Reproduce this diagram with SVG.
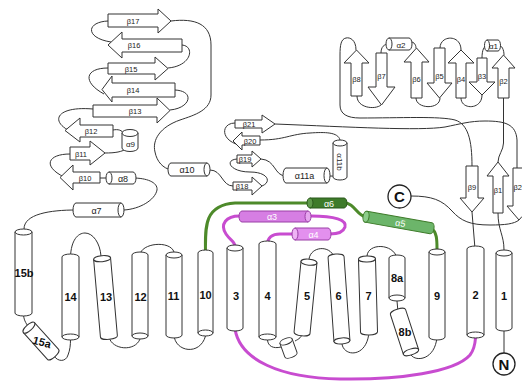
<svg xmlns="http://www.w3.org/2000/svg" width="522" height="381" viewBox="0 0 522 381">
<style>
.cyl{fill:#fff;stroke:#333;stroke-width:1}
.beta{fill:#fff;stroke:#333;stroke-width:1}
.lnk{fill:none;stroke:#333;stroke-width:1}
.mag{fill:none;stroke:#c84cd0;stroke-width:3;stroke-linecap:round}
.grn{fill:none;stroke:#4d8a2a;stroke-width:3;stroke-linecap:round}
.hn{font-family:"Liberation Sans",Arial,sans-serif;font-weight:bold;font-size:11px;text-anchor:middle;fill:#111}
.bl{font-family:"Liberation Sans",Arial,sans-serif;font-size:7.5px;text-anchor:middle;fill:#222}
.al{font-family:"Liberation Sans",Arial,sans-serif;font-size:9px;text-anchor:middle;fill:#222}
.wl{font-family:"Liberation Sans",Arial,sans-serif;font-size:9px;text-anchor:middle;fill:#fff}
.term{fill:#fff;stroke:#222;stroke-width:1.3}
.tl{font-family:"Liberation Sans",Arial,sans-serif;font-weight:bold;font-size:15px;text-anchor:middle;fill:#111}
</style>

<!-- loops between secondary-structure elements -->
<g id="connectors">
 <g class="lnk">
  <path d="M24,229 C24,214 50,210 76,210"/>
  <path d="M124,210 C140,209 155,200 157,190 C158,182 146,178 133,178"/>
  <path d="M100,178 L109,178"/>
  <path d="M70,154 C48,154 42,166 64,177"/>
  <path d="M105,153 C115,153 122,152 128,148"/>
  <path d="M113,130 C118,129 122,130 124,134"/>
  <path d="M93,109 C58,106 50,120 68,130"/>
  <path d="M170,110 C191,108 195,91 175,90"/>
  <path d="M108,68 C85,68 82,82 104,94"/>
  <path d="M168,68 C192,66 195,46 182,45"/>
  <path d="M108,21 C86,22 85,38 111,42"/>
  <path d="M171,21 C195,18 211,24 211,45 L211,95 C211,110 195,115 180,120 C160,127 152,140 155,152 C157,162 163,168 171,170"/>
  <path d="M210,170 C222,170 222,186 233,186"/>
  <path d="M262,186 C272,182 268,172 250,172 C230,172 224,160 237,159"/>
  <path d="M261,159 C276,160 274,176 286,176"/>
  <path d="M330,176 C337,176 340,178 340,175"/>
  <path d="M340,140 C338,132 325,132 310,133 C290,134 285,140 260,140"/>
  <path d="M235,123 C222,123 220,138 236,144"/>
  <path d="M275,124 C350,127 420,131 445,127 C460,124 470,121 485,121 C505,121 516,124 517,140 L517,168"/>
  <path d="M411,196 C432,196 442,200 452,211 C461,221 470,225 490,225 C505,225 514,224 519,220"/>
  <path d="M357,96 C357,108 375,110 381,105"/>
  <path d="M356,50 C356,40 350,37 346,38 C341,39 340,45 340,55 L340,105 C340,114 347,118 360,118 C400,118 440,116 455,120 C468,124 472,140 472,166"/>
  <path d="M381,53 C381,47 384,44 389,44"/>
  <path d="M409,42 C413,41 416,44 416,48"/>
  <path d="M416,98 C416,109 440,110 440,98"/>
  <path d="M440,48 C440,35 461,34 461,50"/>
  <path d="M461,98 C461,110 482,110 482,95"/>
  <path d="M482,58 C482,50 484,46 487,46"/>
  <path d="M498,45 C502,45 504,50 504,55"/>
  <path d="M503.5,98 L503.5,143 C503.5,150 498,155 498,162"/>
  <path d="M498,213 C498,230 504,235 504,250"/>
  <path d="M472,212 L475,249"/>
  <path d="M504,331 L504,353"/>
  <path d="M23.5,315 C24,321 27,325 29,327"/>
  <path d="M54,356 C58,362 66,362 68,355 C70,350 70.5,345 70.5,339"/>
  <path d="M70.5,257 C71,240 78,233 85,233 C93,233 100,243 101,256"/>
  <path d="M109,337 C112,350 135,352 140,339"/>
  <path d="M140,255 C141,243 170,240 174,252"/>
  <path d="M174,335 C175,352 200,356 205.5,336"/>
  <path d="M267.5,340 C268,346 273,349 281,347"/>
  <path d="M295,341 C299,339 302,337 302,333"/>
  <path d="M309,259 C311,246 330,245 334,257"/>
  <path d="M342,344 C344,357 367,358 369,332"/>
  <path d="M367,256 C368,243 393,243 397,258"/>
  <path d="M397,301 L398,312"/>
  <path d="M411,355 C416,362 435,360 437,337"/>
 </g>
 <path class="grn" d="M205.5,252 C205,225 205,205 235,203 L310,203"/>
 <path class="grn" d="M344,203 C355,203 356,215 366,217"/>
 <path class="grn" d="M431,228 C437,232 437,240 437,249"/>
 <path class="mag" d="M242,216 C225,215 220,225 226,234 C230,240 235,242 235,246"/>
 <path class="mag" d="M311,216 C335,216 347,220 345,227 C343,233 335,234 330,234"/>
 <path class="mag" d="M295,234 L280,234 C272,234 267.5,238 267.5,244"/>
 <path class="mag" d="M235,329 C240,360 280,378 340,379 C400,380 455,372 470,355 C474,350 475,345 475.5,338"/>
</g>

<!-- beta strands -->
<g id="b17"><polygon class="beta" points="108,14 158,14 158,9 171,21 158,33 158,27 108,27"/><text class="bl" x="133" y="23.5">β17</text></g>
<g id="b16"><polygon class="beta" points="182,39 122,39 122,32 108,45 122,58 122,52 182,52"/><text class="bl" x="134" y="48">β16</text></g>
<g id="b15"><polygon class="beta" points="108,63 155,63 155,57 168,68.5 155,80 155,74 108,74"/><text class="bl" x="131" y="71.5">β15</text></g>
<g id="b14"><polygon class="beta" points="175,83 112,83 112,76 102,89.5 112,102 112,97 175,97"/><text class="bl" x="133" y="92.5">β14</text></g>
<g id="b13"><polygon class="beta" points="93,105 157,105 157,98 170,110.5 157,123 157,117 93,117"/><text class="bl" x="135" y="113.5">β13</text></g>
<g id="b12"><polygon class="beta" points="113,125 80,125 80,118 65,130.5 80,142 80,137 113,137"/><text class="bl" x="91" y="133.5">β12</text></g>
<g id="b11"><polygon class="beta" points="70,147 90,147 90,141 105,153 90,165 90,160 70,160"/><text class="bl" x="81" y="156.5">β11</text></g>
<g id="b10"><polygon class="beta" points="100,172 73,172 73,165 60,177.5 73,190 73,183 100,183"/><text class="bl" x="85" y="180.5">β10</text></g>
<g id="b21"><polygon class="beta" points="235,120 262,120 262,115 275,124 262,133 262,128 235,128"/><text class="bl" x="249" y="127">β21</text></g>
<g id="b20"><polygon class="beta" points="260,136 242,136 242,132 233,141 242,150 242,145 260,145"/><text class="bl" x="250" y="143.5">β20</text></g>
<g id="b19"><polygon class="beta" points="237,155 252,155 252,151 261,159 252,167 252,163 237,163"/><text class="bl" x="245" y="161.5">β19</text></g>
<g id="b18"><polygon class="beta" points="233,182 252,182 252,177 262,186 252,195 252,190 233,190"/><text class="bl" x="242" y="188.5">β18</text></g>
<g id="b8"><polygon class="beta" points="351,96 351,63 344,63 356.5,50 369,63 362,63 362,96"/><text class="bl" x="356.5" y="82">β8</text></g>
<g id="b7"><polygon class="beta" points="376,53 376,87 368,87 381.5,105 395,87 387,87 387,53"/><text class="bl" x="381.5" y="79">β7</text></g>
<g id="b6"><polygon class="beta" points="411,98 411,62 404,62 416.5,48 429,62 422,62 422,98"/><text class="bl" x="416.5" y="82">β6</text></g>
<g id="b5"><polygon class="beta" points="434,48 434,83 427,83 439.5,98 452,83 445,83 445,48"/><text class="bl" x="439.5" y="79">β5</text></g>
<g id="b4"><polygon class="beta" points="456,98 456,63 448,63 461,50 474,63 466,63 466,98"/><text class="bl" x="461" y="82">β4</text></g>
<g id="b3"><polygon class="beta" points="477,58 477,82 469,82 482,95 495,82 487,82 487,58"/><text class="bl" x="482" y="79">β3</text></g>
<g id="b2"><polygon class="beta" points="498,98 498,68 492,68 503.5,55 515,68 509,68 509,98"/><text class="bl" x="503.5" y="84">β2</text></g>
<g id="b9"><polygon class="beta" points="466,166 466,198 460,198 472,212 484,198 478,198 478,166"/><text class="bl" x="472" y="190">β9</text></g>
<g id="b1"><polygon class="beta" points="493,213 493,176 487,176 498,162 509,176 503,176 503,213"/><text class="bl" x="498" y="193">β1</text></g>
<g id="b22"><path class="beta" d="M522,168 L513,168 L513,206 L507,206 L519,220 L522,216.5"/><text class="bl" x="513.5" y="190" style="text-anchor:start">β2</text></g>

<!-- helices of the membrane domain -->
<g id="h15b" transform="translate(23.5,272.5)"><path class="cyl" d="M-8.5,-40.5 V40.5 A8.5,3 0 0 0 8.5,40.5 V-40.5 Z"/><ellipse class="cyl" cx="0" cy="-40.5" rx="8.5" ry="3"/><text class="hn" x="0.5" y="4">15b</text></g>
<g id="h15a"><g transform="translate(41,341) rotate(-42)"><path class="cyl" d="M-7.5,-18 V18 A7.5,3 0 0 0 7.5,18 V-18 Z"/><ellipse class="cyl" cx="0" cy="-18" rx="7.5" ry="3"/></g><text class="hn" x="42" y="346" transform="rotate(15 42 342)">15a</text></g>
<g id="h14" transform="translate(70.5,297)"><path class="cyl" d="M-8.5,40 V-40 A8.5,3 0 0 1 8.5,-40 V40 Z"/><ellipse class="cyl" cx="0" cy="40" rx="8.5" ry="3"/><text class="hn" x="0" y="4">14</text></g>
<g id="h13"><g transform="translate(105.5,297.5) rotate(-5)"><path class="cyl" d="M-8.5,-39 V39 A8.5,3 0 0 0 8.5,39 V-39 Z"/><ellipse class="cyl" cx="0" cy="-39" rx="8.5" ry="3"/></g><text class="hn" x="106" y="301">13</text></g>
<g id="h12" transform="translate(140,295.5)"><path class="cyl" d="M-8,40.5 V-40.5 A8,3 0 0 1 8,-40.5 V40.5 Z"/><ellipse class="cyl" cx="0" cy="40.5" rx="8" ry="3"/><text class="hn" x="0.5" y="5">12</text></g>
<g id="h11" transform="translate(174,295)"><path class="cyl" d="M-8,-40 V40 A8,3 0 0 0 8,40 V-40 Z"/><ellipse class="cyl" cx="0" cy="-40" rx="8" ry="3"/><text class="hn" x="-0.5" y="5">11</text></g>
<g id="h10" transform="translate(205.5,293)"><path class="cyl" d="M-7.5,40 V-40 A7.5,3 0 0 1 7.5,-40 V40 Z"/><ellipse class="cyl" cx="0" cy="40" rx="7.5" ry="3"/><text class="hn" x="0" y="6">10</text></g>
<g id="h3" transform="translate(235,288)"><path class="cyl" d="M-8,-40 V40 A8,3 0 0 0 8,40 V-40 Z"/><ellipse class="cyl" cx="0" cy="-40" rx="8" ry="3"/><text class="hn" x="1" y="12">3</text></g>
<g id="h4" transform="translate(267.5,290.5)"><path class="cyl" d="M-8.5,46.5 V-46.5 A8.5,3 0 0 1 8.5,-46.5 V46.5 Z"/><ellipse class="cyl" cx="0" cy="46.5" rx="8.5" ry="3"/><text class="hn" x="0" y="9.5">4</text></g>
<g id="h4b"><g transform="translate(288.5,348) rotate(-20)"><path class="cyl" d="M-6.5,-7 V7 A6.5,3 0 0 0 6.5,7 V-7 Z"/><ellipse class="cyl" cx="0" cy="-7" rx="6.5" ry="3"/></g></g>
<g id="h5"><g transform="translate(305.5,297.5) rotate(5.6)"><path class="cyl" d="M-8,-35.5 V35.5 A8,3 0 0 0 8,35.5 V-35.5 Z"/><ellipse class="cyl" cx="0" cy="-35.5" rx="8" ry="3"/></g><text class="hn" x="307" y="300">5</text></g>
<g id="h6"><g transform="translate(339,299) rotate(-4)"><path class="cyl" d="M-8,42 V-42 A8,3 0 0 1 8,-42 V42 Z"/><ellipse class="cyl" cx="0" cy="42" rx="8" ry="3"/></g><text class="hn" x="338.5" y="300">6</text></g>
<g id="h7"><g transform="translate(368,295.5) rotate(-1.6)"><path class="cyl" d="M-8.5,-36.5 V36.5 A8.5,3 0 0 0 8.5,36.5 V-36.5 Z"/><ellipse class="cyl" cx="0" cy="-36.5" rx="8.5" ry="3"/></g><text class="hn" x="368.5" y="300">7</text></g>
<g id="h8a" transform="translate(397,278)"><path class="cyl" d="M-8,20 V-20 A8,3 0 0 1 8,-20 V20 Z"/><ellipse class="cyl" cx="0" cy="20" rx="8" ry="3"/><text class="hn" x="0" y="4">8a</text></g>
<g id="h8b"><g transform="translate(404.5,332) rotate(-18)"><path class="cyl" d="M-8,21 V-21 A8,3 0 0 1 8,-21 V21 Z"/><ellipse class="cyl" cx="0" cy="21" rx="8" ry="3"/></g><text class="hn" x="405" y="336">8b</text></g>
<g id="h9" transform="translate(437,294.5)"><path class="cyl" d="M-8,-42.5 V42.5 A8,3 0 0 0 8,42.5 V-42.5 Z"/><ellipse class="cyl" cx="0" cy="-42.5" rx="8" ry="3"/><text class="hn" x="0" y="5.5">9</text></g>
<g id="h2" transform="translate(475.5,292)"><path class="cyl" d="M-8.5,43 V-43 A8.5,3 0 0 1 8.5,-43 V43 Z"/><ellipse class="cyl" cx="0" cy="43" rx="8.5" ry="3"/><text class="hn" x="0" y="7">2</text></g>
<g id="h1" transform="translate(504,290.5)"><path class="cyl" d="M-8,-37.5 V37.5 A8,3 0 0 0 8,37.5 V-37.5 Z"/><ellipse class="cyl" cx="0" cy="-37.5" rx="8" ry="3"/><text class="hn" x="0" y="9.5">1</text></g>

<!-- helices of the soluble domain -->
<g id="a7" transform="translate(98.5,210)"><path class="cyl" d="M22.5,-7 H-22.5 A3,7 0 0 0 -22.5,7 H22.5 Z"/><ellipse class="cyl" cx="22.5" cy="0" rx="3" ry="7"/><text class="al" x="-2" y="3.5">α7</text></g>
<g id="a8" transform="translate(121,178)"><path class="cyl" d="M-12,-6 H12 A3,6 0 0 1 12,6 H-12 Z"/><ellipse class="cyl" cx="-12" cy="0" rx="3" ry="6"/><text class="al" x="2" y="3.5">α8</text></g>
<g id="a9" transform="translate(130,140.5)"><path class="cyl" d="M-8,-7.5 V7.5 A8,3.5 0 0 0 8,7.5 V-7.5 Z"/><ellipse class="cyl" cx="0" cy="-7.5" rx="8" ry="3.5"/><text class="al" x="0.5" y="6" style="font-size:8px">α9</text></g>
<g id="a10" transform="translate(189,169.5)"><path class="cyl" d="M18,-6.5 H-18 A3,6.5 0 0 0 -18,6.5 H18 Z"/><ellipse class="cyl" cx="18" cy="0" rx="3" ry="6.5"/><text class="al" x="-2" y="3.5">α10</text></g>
<g id="a11a" transform="translate(306.5,175.5)"><path class="cyl" d="M20.5,-7.5 H-20.5 A3,7.5 0 0 0 -20.5,7.5 H20.5 Z"/><ellipse class="cyl" cx="20.5" cy="0" rx="3" ry="7.5"/><text class="al" x="-2" y="3.5">α11a</text></g>
<g id="a11b" transform="translate(340,160)"><path class="cyl" d="M-7,-17 V17 A7,3 0 0 0 7,17 V-17 Z"/><ellipse class="cyl" cx="0" cy="-17" rx="7" ry="3"/><text class="al" x="2" y="3" transform="rotate(90)" style="font-size:8px">α11b</text></g>
<g id="a2" transform="translate(399,44)"><path class="cyl" d="M-10,-6 H10 A3,6 0 0 1 10,6 H-10 Z"/><ellipse class="cyl" cx="-10" cy="0" rx="3" ry="6"/><text class="al" x="2" y="3.5" style="font-size:8px">α2</text></g>
<g id="a1" transform="translate(492.5,45.5)"><path class="cyl" d="M-5.5,-5.5 H5.5 A2.5,5.5 0 0 1 5.5,5.5 H-5.5 Z"/><ellipse class="cyl" cx="-5.5" cy="0" rx="2.5" ry="5.5"/><text class="al" x="1" y="3" style="font-size:8px">α1</text></g>
<g id="a3" transform="translate(275,216.5)"><path d="M33,-5.5 H-33 A3,5.5 0 0 0 -33,5.5 H33 Z" fill="#d67ee3" stroke="#9a3ea6"/><ellipse cx="33" cy="0" rx="3" ry="5.5" fill="#e6a6ef" stroke="#9a3ea6"/><text class="wl" x="-3" y="3">α3</text></g>
<g id="a4" transform="translate(311.5,234)"><path d="M-16.5,-6 H16.5 A3,6 0 0 1 16.5,6 H-16.5 Z" fill="#e390ee" stroke="#9a3ea6"/><ellipse cx="-16.5" cy="0" rx="3" ry="6" fill="#efb3f5" stroke="#9a3ea6"/><text class="wl" x="2" y="3.5">α4</text></g>
<g id="a6" transform="translate(327,203)"><path d="M-17,-5 H17 A3,5 0 0 1 17,5 H-17 Z" fill="#3e7b2a" stroke="#2b5a1c"/><ellipse cx="-17" cy="0" rx="3" ry="5" fill="#5f9a4b" stroke="#2b5a1c"/><text class="wl" x="2" y="3.5">α6</text></g>
<g id="a5" transform="translate(398.5,222.5) rotate(10)"><path d="M-33,-5.5 H33 A3,5.5 0 0 1 33,5.5 H-33 Z" fill="#6cb56a" stroke="#3e7b2a"/><ellipse cx="-33" cy="0" rx="3" ry="5.5" fill="#8ccc89" stroke="#3e7b2a"/><text class="wl" x="2" y="3.5">α5</text></g>

<!-- chain termini -->
<g id="cterm"><circle class="term" cx="399.5" cy="196.5" r="11.5"/><text class="tl" x="399.5" y="202">C</text></g>
<g id="nterm"><circle class="term" cx="504" cy="364" r="11"/><text class="tl" x="504" y="369.5">N</text></g>
</svg>
